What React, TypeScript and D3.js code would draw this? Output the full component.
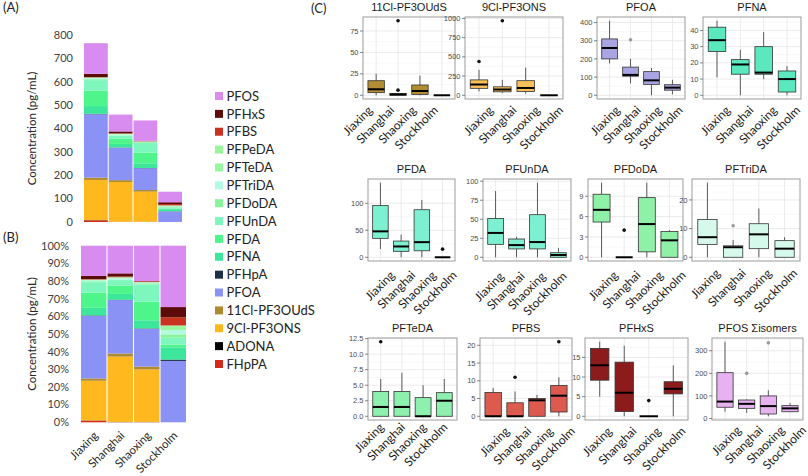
import React from 'react';
import * as d3 from 'd3';

// ---------- Panels A & B data ----------
const sites = ['Jiaxing', 'Shanghai', 'Shaoxing', 'Stockholm'];
// stacking order, bottom -> top
const stackCompounds = ['FHpPA', 'ADONA', '9Cl-PF3ONS', '11Cl-PF3OUdS', 'PFOA', 'PFHpA', 'PFNA', 'PFDA', 'PFUnDA', 'PFDoDA', 'PFTriDA', 'PFTeDA', 'PFPeDA', 'PFBS', 'PFHxS', 'PFOS'];
const stackColors = ['#D42A1C', '#000000', '#FFB81E', '#B08A2E', '#8A93F5', '#1C2E4A', '#3CE69A', '#4DF58A', '#7EF7BE', '#88F59C', '#B3FBE0', '#96F79E', '#9AF59A', '#C8321E', '#5C0B0B', '#D98CF0'];
const legendLabels = ['PFOS', 'PFHxS', 'PFBS', 'PFPeDA', 'PFTeDA', 'PFTriDA', 'PFDoDA', 'PFUnDA', 'PFDA', 'PFNA', 'PFHpA', ' PFOA', '11Cl-PF3OUdS', '9Cl-PF3ONS', 'ADONA', 'FHpPA'];
const jiaxingConc = [7, 1, 172, 10, 271, 2, 33, 66, 45, 4, 5, 1.5, 1, 1.5, 14, 131];
const shanghaiConc = [0.5, 0.5, 170, 8, 139, 1, 15, 22, 14, 0.5, 4, 2, 1, 2, 8, 72];
const shaoxingConc = [0.5, 0.5, 129, 7, 93, 1, 20, 46, 42, 3, 2, 0.5, 0.5, 2, 0.5, 87];
const stockholmConc = [0, 0, 0, 0, 45, 1, 9, 2, 5, 2.5, 3, 2.5, 1, 6, 7.5, 45];
const concTicks = [0, 100, 200, 300, 400, 500, 600, 700, 800];
const percentTicks = [0, 0.1, 0.2, 0.3, 0.4, 0.5, 0.6, 0.7, 0.8, 0.9, 1];

// ---------- Panel C data: [lower whisker, Q1, median, Q3, upper whisker] per site ----------
const boxTitles = ['11Cl-PF3OUdS', '9Cl-PF3ONS', 'PFOA', 'PFNA', 'PFDA', 'PFUnDA', 'PFDoDA', 'PFTriDA', 'PFTeDA', 'PFBS', 'PFHxS', 'PFOS Σisomers'];
const boxFills = ['#B38D33', '#F8C05A', '#A8A5E2', '#5CE8BE', '#7DF0D2', '#7DF0D2', '#8FF0A8', '#D5FAEB', '#8EF0AE', '#DC5A4E', '#8C1C1C', '#E6B2EF'];

const stats11Cl = [[0, 3, 7, 17, 25], [0, 0, 1, 2, 2], [0, 1, 5, 12, 23], [0, 0, 0, 0, 0]];
const out11Cl = [[], [6, 87], [], []];
const ticks11Cl = [0, 25, 50, 75];

const stats9Cl = [[50, 90, 140, 200, 330], [30, 45, 75, 110, 200], [20, 50, 95, 190, 360], [0, 0, 0, 0, 0]];
const out9Cl = [[440], [970], [], []];
const ticks9Cl = [0, 250, 500, 750, 1000];

const statsPFOA = [[175, 200, 260, 310, 410], [65, 105, 112, 155, 200], [0, 60, 82, 130, 150], [5, 28, 42, 58, 85]];
const outPFOA = [[], [305], [], []];
const ticksPFOA = [0, 100, 200, 300, 400];

const statsPFNA = [[11, 27, 34, 42, 46], [0, 13, 19, 22, 28], [10, 13, 14, 30, 39], [0, 2, 10, 15, 18]];
const outPFNA = [[], [], [], []];
const ticksPFNA = [0, 10, 20, 30, 40];

const statsPFDA = [[15, 35, 48, 96, 138], [0, 11, 20, 30, 42], [0, 12, 28, 88, 106], [0, 0, 0, 0, 0]];
const outPFDA = [[], [], [], [15]];
const ticksPFDA = [0, 50, 100];

const statsPFUnDA = [[0, 17, 32, 51, 87], [0, 11, 16, 24, 27], [0, 11, 20, 56, 98], [0, 0, 3, 6, 12]];
const outPFUnDA = [[], [], [], []];
const ticksPFUnDA = [0, 25, 50, 75, 100];

const statsPFDoDA = [[0, 5.2, 7, 9.3, 11], [0, 0, 0, 0, 0], [0, 0.8, 4.9, 8.8, 11], [0, 0, 2.5, 3.8, 4]];
const outPFDoDA = [[], [4], [], []];
const ticksPFDoDA = [0, 3, 6, 9];

const statsPFTriDA = [[0, 4.5, 7, 13.2, 26], [0, 0, 3.5, 4, 6], [0, 3, 8, 11.7, 17], [0, 0, 3, 5.8, 7]];
const outPFTriDA = [[], [11], [], []];
const ticksPFTriDA = [0, 10, 20];

const statsPFTeDA = [[0, 0, 1.5, 4, 6], [0, 0, 1.5, 4, 7], [0, 0, 0, 3, 5], [0, 0, 2.5, 3.8, 6]];
const outPFTeDA = [[12], [], [], []];
const ticksPFTeDA = [0, 2.5, 5, 7.5, 10, 12.5];

const statsPFBS = [[0, 0, 0, 6.7, 8], [0, 0, 0, 3.8, 7], [0, 0, 4.5, 5, 6], [0, 1.2, 5.8, 8.7, 11]];
const outPFBS = [[], [11], [], [21]];
const ticksPFBS = [0, 5, 10, 15, 20];

const statsPFHxS = [[5, 9.2, 13, 17.3, 19], [0, 1.2, 6, 13.8, 18], [0, 0, 0, 0, 0], [0, 5.7, 7, 8.8, 13]];
const outPFHxS = [[], [], [4], []];
const ticksPFHxS = [0, 5, 10, 15];

const statsPFOS = [[30, 50, 75, 203, 340], [25, 45, 65, 82, 85], [10, 20, 55, 100, 125], [28, 30, 45, 57, 68]];
const outPFOS = [[], [200], [335], []];
const ticksPFOS = [0, 100, 200, 300];

const grayOutlierPanels = ['PFOA', 'PFTriDA', 'PFOS Σisomers'];

// ---------- layout ----------
const W = 808;
const H = 476;
const LATO = 'Lato, "Open Sans", sans-serif';
const ARIAL = '"Liberation Sans", Arial, sans-serif';

const panelRects: [number, number, number, number][] = [
  [363, 455, 17, 99], [465, 563, 17, 99], [597, 685, 17, 99], [703, 801, 17, 99],
  [368, 455, 179, 261], [483, 571, 179, 261], [588, 683, 179, 261], [692, 800, 179, 261],
  [368, 457, 338, 420], [480, 572, 338, 420], [585, 688, 338, 420], [712, 803, 338, 420],
];
// offset of each facet's category-label anchor from (box centre, panel bottom)
const labelOffsets: [number, number][] = [
  [-3, 12], [15, 12], [11, 12], [14, 12],
  [15, 15], [9, 16], [17, 15], [13.5, 13],
  [4, 8], [17, 12], [13, 12], [17, 11],
];

const allStats = [stats11Cl, stats9Cl, statsPFOA, statsPFNA, statsPFDA, statsPFUnDA, statsPFDoDA, statsPFTriDA, statsPFTeDA, statsPFBS, statsPFHxS, statsPFOS];
const allOut = [out11Cl, out9Cl, outPFOA, outPFNA, outPFDA, outPFUnDA, outPFDoDA, outPFTriDA, outPFTeDA, outPFBS, outPFHxS, outPFOS];
const allTicks = [ticks11Cl, ticks9Cl, ticksPFOA, ticksPFNA, ticksPFDA, ticksPFUnDA, ticksPFDoDA, ticksPFTriDA, ticksPFTeDA, ticksPFBS, ticksPFHxS, ticksPFOS];

function StackPanel({ mode }: { mode: 'abs' | 'pct' }) {
  const concRows = [jiaxingConc, shanghaiConc, shaoxingConc, stockholmConc];
  const table = sites.map((s, i) => {
    const o: any = { site: s };
    stackCompounds.forEach((c, j) => (o[c] = concRows[i][j]));
    return o;
  });
  const stacker = d3.stack<any>().keys(stackCompounds);
  if (mode === 'pct') stacker.offset(d3.stackOffsetExpand);
  const series = stacker(table);
  const isAbs = mode === 'abs';
  const y = isAbs ? d3.scaleLinear([0, 800], [222, 35]) : d3.scaleLinear([0, 1], [422.3, 245.7]);
  const x = isAbs
    ? d3.scaleBand(sites, [84, 182]).paddingInner(0.04)
    : d3.scaleBand(sites, [81, 186]).paddingInner(0.04);
  const ticks = isAbs ? concTicks : percentTicks;
  const fmt = isAbs ? d3.format('d') : d3.format('.0%');
  const tickX = isAbs ? 73 : 69;
  const [yr0, yr1] = y.range();
  return (
    <g>
      {series.map((ser, k) => (
        <g key={k} fill={stackColors[k]}>
          {ser.map((d, i) => (
            <rect key={i} x={x(sites[i])} width={x.bandwidth()} y={y(d[1])} height={Math.max(0, y(d[0]) - y(d[1]))} />
          ))}
        </g>
      ))}
      {ticks.map((t) => (
        <text key={t} x={tickX} y={y(t)} dy="0.35em" textAnchor="end" fontFamily={LATO} fontSize={11} fill="#404040">
          {fmt(t)}
        </text>
      ))}
      <text
        transform={`translate(36,${(yr0 + yr1) / 2}) rotate(-90)`}
        textAnchor="middle"
        fontFamily={LATO}
        fontSize={11.5}
        fill="#262626"
      >
        Concentration (pg/mL)
      </text>
      {!isAbs &&
        sites.map((s) => (
          <text
            key={s}
            transform={`translate(${(x(s) as number) + x.bandwidth() / 2 + 5},${yr0 + 14}) rotate(-45)`}
            textAnchor="end"
            fontFamily={LATO}
            fontSize={11.5}
            fill="#262626"
          >
            {s}
          </text>
        ))}
    </g>
  );
}

function Legend() {
  const y = d3.scaleLinear([0, legendLabels.length - 1], [96, 364]);
  return (
    <g>
      {legendLabels.map((l, i) => {
        const ci = stackCompounds.length - 1 - i;
        return (
          <g key={i}>
            <rect x={215} y={y(i) - 4} width={8} height={8} fill={stackColors[ci]} />
            <text x={226.5} y={y(i)} dy="0.36em" fontFamily={LATO} fontSize={13} fill="#222">
              {l}
            </text>
          </g>
        );
      })}
    </g>
  );
}

function BoxPanel({ idx }: { idx: number }) {
  const [x0, x1, top, bottom] = panelRects[idx];
  const [ldx, ldy] = labelOffsets[idx];
  const stats = allStats[idx];
  const outs = allOut[idx];
  const ticks = allTicks[idx];
  const title = boxTitles[idx];
  const fill = boxFills[idx];
  const vals = [...stats.flat(), ...outs.flat()];
  const lo = d3.min(vals) as number;
  const hi = d3.max(vals) as number;
  const r = hi - lo;
  const y = d3.scaleLinear([lo - 0.05 * r, hi + 0.05 * r], [bottom, top]);
  const x = d3.scaleLinear([0.4, 4.6], [x0, x1]);
  const bw = 0.75 * (x(1) - x(0));
  const step = ticks[1] - ticks[0];
  const minors: number[] = [];
  const [d0, d1] = y.domain();
  for (let i = -1; i < ticks.length; i++) {
    const m = (i < 0 ? ticks[0] : ticks[i]) + (i < 0 ? -step / 2 : step / 2);
    if (m >= d0 && m <= d1) minors.push(m);
  }
  const fmt = title === 'PFTeDA' ? d3.format('.1f') : d3.format('d');
  const outColor = grayOutlierPanels.includes(title) ? '#9a9a9a' : '#111';
  return (
    <g>
      <rect x={x0} y={top} width={x1 - x0} height={bottom - top} fill="#fff" />
      {minors.map((m) => (
        <line key={'m' + m} x1={x0} x2={x1} y1={y(m)} y2={y(m)} stroke="#F4F4F4" strokeWidth={0.6} />
      ))}
      {ticks.map((t) => (
        <line key={'g' + t} x1={x0} x2={x1} y1={y(t)} y2={y(t)} stroke="#E6E6E6" strokeWidth={0.8} />
      ))}
      {sites.map((s, i) => (
        <line key={'v' + s} x1={x(i + 1)} x2={x(i + 1)} y1={top} y2={bottom} stroke="#E6E6E6" strokeWidth={0.8} />
      ))}
      {stats.map((st, i) => {
        const cx = x(i + 1);
        const [wl, q1, md, q3, wh] = st;
        return (
          <g key={i}>
            <line x1={cx} x2={cx} y1={y(wh)} y2={y(q3)} stroke="#333" strokeWidth={0.8} />
            <line x1={cx} x2={cx} y1={y(q1)} y2={y(wl)} stroke="#333" strokeWidth={0.8} />
            <rect x={cx - bw / 2} width={bw} y={y(q3)} height={Math.max(0, y(q1) - y(q3))} fill={fill} stroke="#333" strokeWidth={0.8} />
            <line x1={cx - bw / 2} x2={cx + bw / 2} y1={y(md)} y2={y(md)} stroke="#000" strokeWidth={2} />
            {outs[i].map((o, k) => (
              <circle key={k} cx={cx} cy={y(o)} r={1.8} fill={outColor} />
            ))}
          </g>
        );
      })}
      <rect x={x0} y={top} width={x1 - x0} height={bottom - top} fill="none" stroke="#9C9C9C" strokeWidth={1} />
      {ticks.map((t) => (
        <g key={'t' + t}>
          <line x1={x0 - 3} x2={x0} y1={y(t)} y2={y(t)} stroke="#666" strokeWidth={0.8} />
          <text x={x0 - 4.5} y={y(t)} dy="0.35em" textAnchor="end" fontFamily={ARIAL} fontSize={7.5} fill="#4D4D4D">
            {fmt(t)}
          </text>
        </g>
      ))}
      <text x={(x0 + x1) / 2} y={top - 6.5} textAnchor="middle" fontFamily={ARIAL} fontSize={11} fill="#1a1a1a">
        {title}
      </text>
      {sites.map((s, i) => (
        <text
          key={'xl' + s}
          transform={`translate(${x(i + 1) + ldx},${bottom + ldy}) rotate(-45)`}
          textAnchor="end"
          fontFamily={LATO}
          fontSize={12}
          fill="#1a1a1a"
        >
          {s}
        </text>
      ))}
    </g>
  );
}

export default function App() {
  return (
    <svg width={W} height={H} viewBox={`0 0 ${W} ${H}`} style={{ position: 'absolute', left: 0, top: 0, background: '#fff' }}>
      <rect width={W} height={H} fill="#fff" />
      <text x={3} y={12} fontFamily={LATO} fontSize={13} fill="#222">(A)</text>
      <text x={3} y={242} fontFamily={LATO} fontSize={13} fill="#222">(B)</text>
      <text x={311} y={13} fontFamily={LATO} fontSize={13} fill="#222">(C)</text>
      <StackPanel mode="abs" />
      <StackPanel mode="pct" />
      <Legend />
      {boxTitles.map((_, i) => (
        <BoxPanel key={i} idx={i} />
      ))}
    </svg>
  );
}
